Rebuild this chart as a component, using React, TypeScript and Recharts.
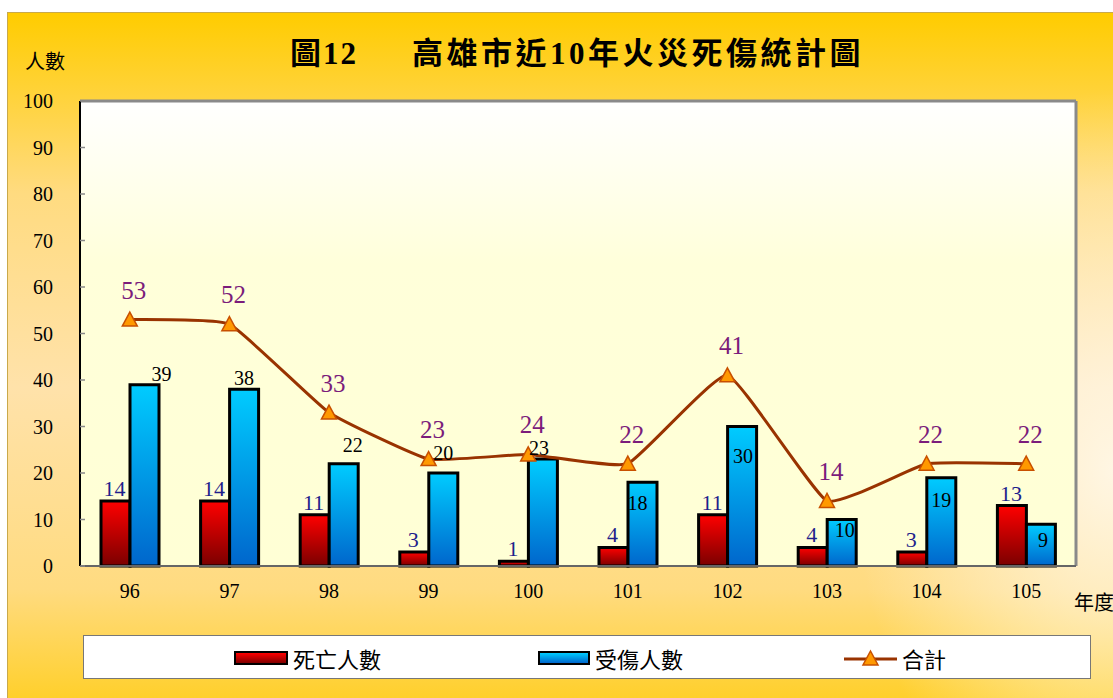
import { ComposedChart, Bar, Line, XAxis, YAxis, CartesianGrid, LabelList } from "recharts";

const FONT = '"Liberation Serif", "Noto Sans CJK TC", serif';

const years = ["96", "97", "98", "99", "100", "101", "102", "103", "104", "105"];
const deaths = [14, 14, 11, 3, 1, 4, 11, 4, 3, 13];
const injured = [39, 38, 22, 20, 23, 18, 30, 10, 19, 9];
const totals = [53, 52, 33, 23, 24, 22, 41, 14, 22, 22];
const yTicks = [0, 10, 20, 30, 40, 50, 60, 70, 80, 90, 100];
const bandEdges = [1, 2, 3, 4, 5, 6, 7, 8, 9];

// hand-placed label nudges in the original (dx, dy from bar top)
const injuredNudge = [[17, -4], [0, -4], [9, -12], [0, -13], [-4, -4], [-5, 28], [1, 36], [3, 17], [0, 29], [2, 23]];

const rows = years.map((year, i) => ({ year, deaths: deaths[i], injured: injured[i], total: totals[i] }));

// light smoothing, close to the Excel look (much flatter than monotone)
const K = 1 / 16;
function softCurve(context: any) {
  let pts: number[][] = [];
  return {
    areaStart() {},
    areaEnd() {},
    lineStart() {
      pts = [];
    },
    lineEnd() {
      if (!pts.length) return;
      context.moveTo(pts[0][0], pts[0][1]);
      for (let i = 0; i < pts.length - 1; i++) {
        const p0 = pts[i - 1] ?? pts[i];
        const p1 = pts[i];
        const p2 = pts[i + 1];
        const p3 = pts[i + 2] ?? p2;
        context.bezierCurveTo(
          p1[0] + (p2[0] - p0[0]) * K,
          p1[1] + (p2[1] - p0[1]) * K,
          p2[0] - (p3[0] - p1[0]) * K,
          p2[1] - (p3[1] - p1[1]) * K,
          p2[0],
          p2[1]
        );
      }
    },
    point(x: number, y: number) {
      pts.push([+x, +y]);
    },
  };
}

function Triangle(props: any) {
  const { cx, cy } = props;
  if (cx == null || cy == null) return null;
  return <path d={`M${cx},${cy - 7.5} L${cx + 7.5},${cy + 6.5} L${cx - 7.5},${cy + 6.5} Z`} fill="#FF9900" stroke="#C85000" strokeWidth={1.5} />;
}

function DeathLabel(p: any) {
  return (
    <text x={p.x + p.width / 2 - 1} y={p.y - 5} textAnchor="middle" fill="#1F1F8C" fontSize={22} fontFamily={FONT}>
      {p.value}
    </text>
  );
}

function InjuredLabel(p: any) {
  const [dx, dy] = injuredNudge[p.index] ?? [0, -4];
  return (
    <text x={p.x + p.width / 2 + dx} y={p.y + dy} textAnchor="middle" fill="#000" fontSize={20} fontFamily={FONT}>
      {p.value}
    </text>
  );
}

function TotalLabel(p: any) {
  return (
    <text x={p.x + 4} y={p.y - 21} textAnchor="middle" fill="#7B1C7B" fontSize={25} fontFamily={FONT}>
      {p.value}
    </text>
  );
}

function Legend() {
  const item = { display: "flex", alignItems: "center", position: "absolute" as const, top: 0, height: 44 };
  const text = { fontSize: 22, fontFamily: FONT, color: "#000", marginLeft: 5 };
  return (
    <div style={{ position: "absolute", left: 83, top: 635, width: 1006, height: 42, background: "#fff", border: "1.5px solid #777" }}>
      <div style={{ ...item, left: 150 }}>
        <div style={{ width: 50, height: 10, border: "2.5px solid #000", background: "linear-gradient(#FF0000, #800000)" }} />
        <span style={text}>死亡人數</span>
      </div>
      <div style={{ ...item, left: 454 }}>
        <div style={{ width: 48, height: 10, border: "2.5px solid #000", background: "linear-gradient(#00CCFF, #0066CC)" }} />
        <span style={text}>受傷人數</span>
      </div>
      <div style={{ ...item, left: 760 }}>
        <svg width={53} height={20}>
          <line x1={0} y1={11} x2={53} y2={11} stroke="#993300" strokeWidth={3} />
          <path d="M26.5,3 L34,17 L19,17 Z" fill="#FF9900" stroke="#C85000" strokeWidth={1.5} />
        </svg>
        <span style={text}>合計</span>
      </div>
    </div>
  );
}

export default function App() {
  const titleStyle = { position: "absolute" as const, top: 28, fontSize: 31, fontWeight: 700, fontFamily: FONT, whiteSpace: "pre" as const, color: "#000" };
  return (
    <div style={{ position: "absolute", left: 0, top: 0, width: 1113, height: 698, overflow: "hidden", background: "#fff" }}>
      <div
        style={{
          position: "absolute",
          left: 7,
          top: 12,
          width: 1130,
          height: 720,
          border: "1.5px solid #C9A94A",
          background: "linear-gradient(180deg, #FFCC00 0%, #FFDB80 25%, #FFE2AA 52%, #FFDB80 80%, #FFCC11 100%)",
        }}
      />
      <div style={{ position: "absolute", left: 0, top: 0, width: 1113, height: 698, background: "radial-gradient(ellipse 260px 380px at 1113px 470px, rgba(255,250,240,0.85), rgba(255,250,240,0))" }} />
      <div style={{ ...titleStyle, left: 290, letterSpacing: 2 }}>圖12</div>
      <div style={{ ...titleStyle, left: 412, letterSpacing: 3.5 }}>高雄市近10年火災死傷統計圖</div>
      <div style={{ position: "absolute", left: 25, top: 46, fontSize: 20, fontFamily: FONT, color: "#000" }}>人數</div>
      <div style={{ position: "absolute", left: 1074, top: 587, fontSize: 20, fontFamily: FONT, color: "#000", whiteSpace: "nowrap" }}>年度</div>
      <div style={{ position: "absolute", left: 0, top: 0 }}>
        <ComposedChart width={1113} height={698} data={rows} margin={{ top: 101, right: 37, bottom: 92, left: 0 }} barGap={0}>
          <defs>
            <linearGradient id="plotBg" x1="0" y1="0" x2="0" y2="1">
              <stop offset="0%" stopColor="#FFFFFF" />
              <stop offset="35%" stopColor="#FFFFDA" />
              <stop offset="100%" stopColor="#FFFFD5" />
            </linearGradient>
            <linearGradient id="redBar" x1="0" y1="0" x2="0" y2="1">
              <stop offset="0%" stopColor="#FF0000" />
              <stop offset="100%" stopColor="#7A0000" />
            </linearGradient>
            <linearGradient id="blueBar" x1="0" y1="0" x2="0" y2="1">
              <stop offset="0%" stopColor="#00CCFF" />
              <stop offset="100%" stopColor="#0066CC" />
            </linearGradient>
          </defs>
          <CartesianGrid
            fill="url(#plotBg)"
            stroke="#8A8A8A"
            strokeWidth={3}
            horizontalCoordinatesGenerator={({ offset }: any) => [offset.top]}
            verticalCoordinatesGenerator={({ offset }: any) => [offset.left + offset.width]}
          />
          <XAxis xAxisId="edges" type="number" domain={[0, 10]} ticks={bandEdges} allowDataOverflow height={0} axisLine={false} tickSize={-6} tickLine={{ stroke: "#888", strokeWidth: 1.5 }} tickFormatter={() => ""} />
          <XAxis
            dataKey="year"
            height={40}
            axisLine={{ stroke: "#666", strokeWidth: 2 }}
            tickLine={false}
            tickMargin={12}
            tick={{ fontSize: 20, fontFamily: FONT, fill: "#000" }}
          />
          <YAxis
            width={80}
            domain={[0, 100]}
            ticks={yTicks}
            interval={0}
            axisLine={{ stroke: "#000", strokeWidth: 2 }}
            tickSize={-5}
            tickMargin={32}
            tickLine={{ stroke: "#888", strokeWidth: 1.5 }}
            tick={{ fontSize: 20, fontFamily: FONT, fill: "#000" }}
          />
          <Bar dataKey="deaths" barSize={29} fill="url(#redBar)" stroke="#000" strokeWidth={3} isAnimationActive={false}>
            <LabelList dataKey="deaths" content={DeathLabel} />
          </Bar>
          <Bar dataKey="injured" barSize={29} fill="url(#blueBar)" stroke="#000" strokeWidth={3} isAnimationActive={false}>
            <LabelList dataKey="injured" content={InjuredLabel} />
          </Bar>
          <Line dataKey="total" type={softCurve as any} stroke="#993300" strokeWidth={3} dot={<Triangle />} activeDot={false} isAnimationActive={false}>
            <LabelList dataKey="total" content={TotalLabel} />
          </Line>
        </ComposedChart>
      </div>
      <Legend />
    </div>
  );
}
